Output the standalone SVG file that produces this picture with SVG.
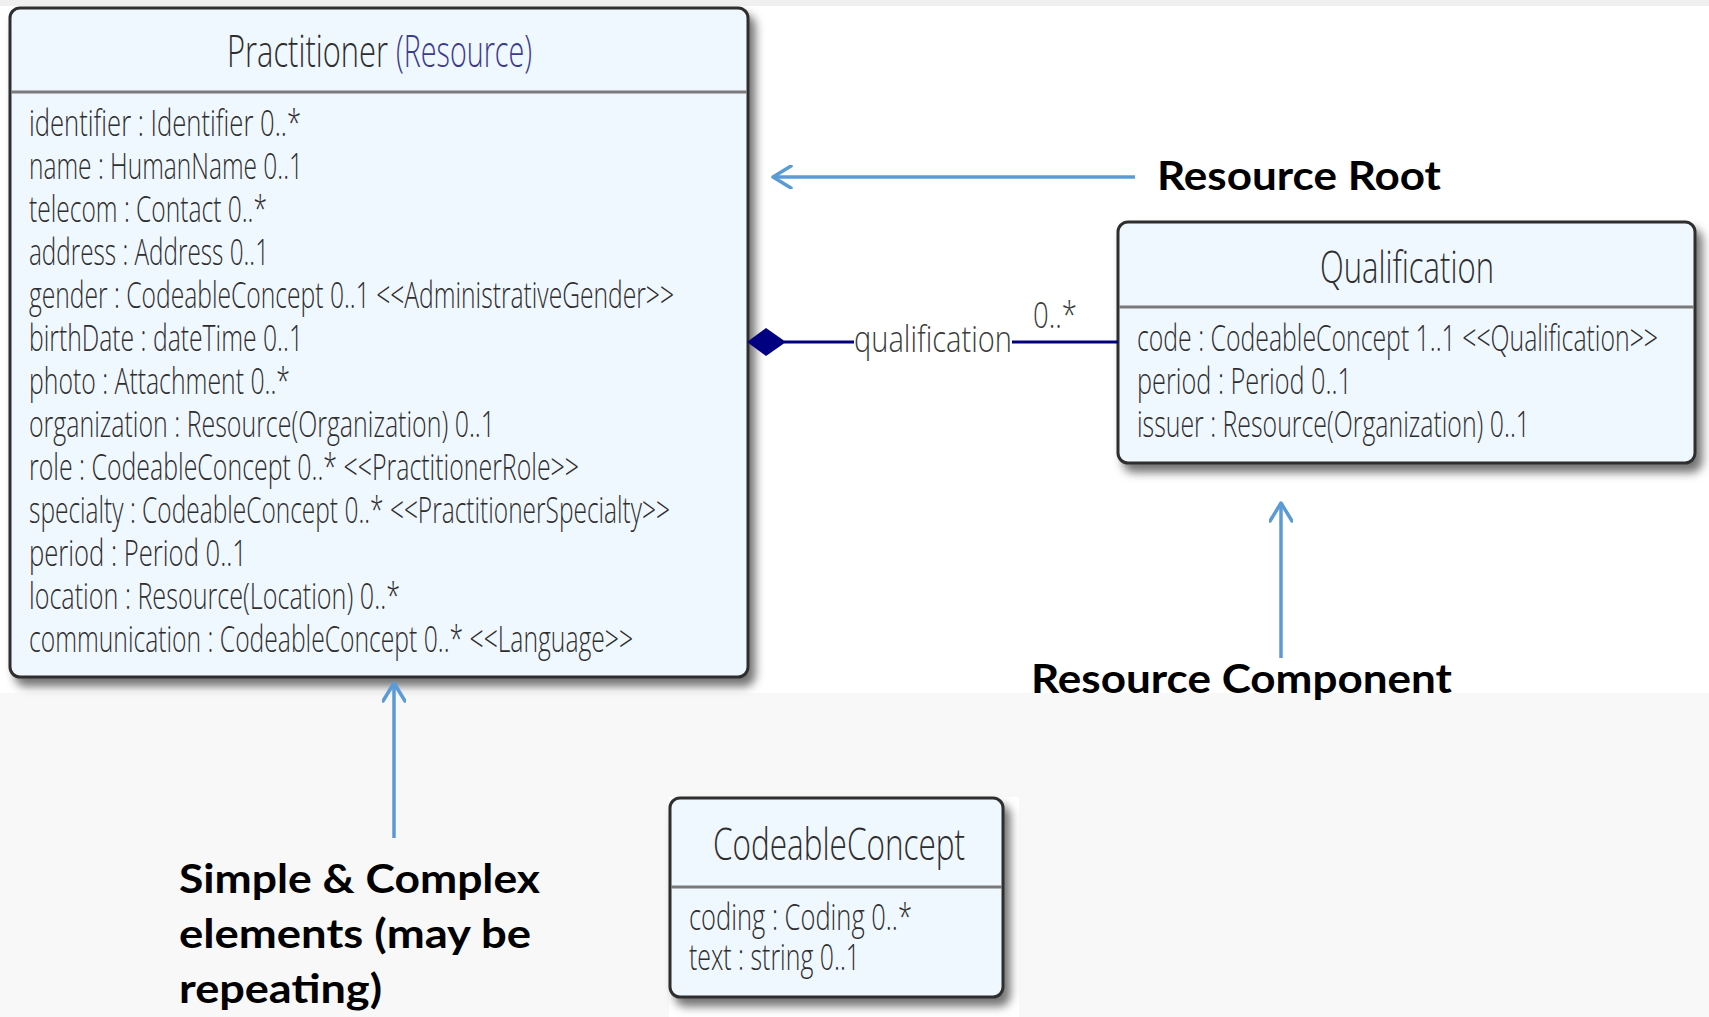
<svg xmlns="http://www.w3.org/2000/svg" width="1709" height="1017" viewBox="0 0 1709 1017">
  <style>
    .box { fill: #eff7ff; stroke: #2f2f2f; stroke-width: 3; }
    .div { stroke: #7a7a7a; stroke-width: 3; }
    .title { font-family: "Open Sans", "Noto Sans", sans-serif; font-weight: 300; font-size: 44px; fill: #2e2e2e; }
    .kind { fill: #3b3b8c; }
    .attr { font-family: "Open Sans", "Noto Sans", sans-serif; font-weight: 300; font-size: 36px; fill: #2e2e2e; }
    .lbl { font-family: "Open Sans", "Noto Sans", sans-serif; font-weight: 300; font-size: 36px; fill: #3a3a3a; }
    .note { font-family: Lato, "Open Sans", sans-serif; font-weight: 700; font-size: 40px; fill: #000000; }
    .assoc { stroke: #000080; stroke-width: 3; fill: none; }
    .callout { stroke: #5b9bd5; stroke-width: 3.5; fill: none; }
  </style>
  <defs>
    <filter id="shadow" x="-5%" y="-5%" width="115%" height="115%">
      <feDropShadow dx="6" dy="8" stdDeviation="5" flood-color="#000000" flood-opacity="0.55"/>
    </filter>
    <marker id="chevron" viewBox="0 0 24 24" refX="22" refY="12" markerWidth="24" markerHeight="24" markerUnits="userSpaceOnUse" orient="auto">
      <path d="M4,1 L22,12 L4,23" fill="none" stroke="#5b9bd5" stroke-width="3.5" stroke-linecap="round" stroke-linejoin="round"/>
    </marker>
  </defs>

  <!-- page background -->
  <rect x="0" y="0" width="1709" height="1017" fill="#ffffff"/>
  <rect x="0" y="0" width="1709" height="6" fill="#f0f0f0"/>
  <rect x="0" y="693" width="1709" height="324" fill="#f8f8f8"/>
  <rect x="669" y="797" width="350" height="220" fill="#ffffff"/>

  <!-- Practitioner class -->
  <g id="practitioner">
    <rect class="box" x="10" y="8" width="738" height="669" rx="10" filter="url(#shadow)"/>
    <line class="div" x1="11" y1="92" x2="747" y2="92"/>
    <text class="title" x="227" y="67" textLength="161" lengthAdjust="spacingAndGlyphs">Practitioner</text>
    <text class="title kind" x="396" y="67" textLength="136" lengthAdjust="spacingAndGlyphs">(Resource)</text>
    <text class="attr" x="29" y="136" textLength="272" lengthAdjust="spacingAndGlyphs">identifier : Identifier 0..*</text>
    <text class="attr" x="29" y="179" textLength="274" lengthAdjust="spacingAndGlyphs">name : HumanName 0..1</text>
    <text class="attr" x="29" y="222" textLength="238" lengthAdjust="spacingAndGlyphs">telecom : Contact 0..*</text>
    <text class="attr" x="29" y="265" textLength="240" lengthAdjust="spacingAndGlyphs">address : Address 0..1</text>
    <text class="attr" x="29" y="308" textLength="645" lengthAdjust="spacingAndGlyphs">gender : CodeableConcept 0..1 &lt;&lt;AdministrativeGender&gt;&gt;</text>
    <text class="attr" x="29" y="351" textLength="274" lengthAdjust="spacingAndGlyphs">birthDate : dateTime 0..1</text>
    <text class="attr" x="29" y="394" textLength="261" lengthAdjust="spacingAndGlyphs">photo : Attachment 0..*</text>
    <text class="attr" x="29" y="437" textLength="466" lengthAdjust="spacingAndGlyphs">organization : Resource(Organization) 0..1</text>
    <text class="attr" x="29" y="480" textLength="550" lengthAdjust="spacingAndGlyphs">role : CodeableConcept 0..* &lt;&lt;PractitionerRole&gt;&gt;</text>
    <text class="attr" x="29" y="523" textLength="641" lengthAdjust="spacingAndGlyphs">specialty : CodeableConcept 0..* &lt;&lt;PractitionerSpecialty&gt;&gt;</text>
    <text class="attr" x="29" y="566" textLength="218" lengthAdjust="spacingAndGlyphs">period : Period 0..1</text>
    <text class="attr" x="29" y="609" textLength="371" lengthAdjust="spacingAndGlyphs">location : Resource(Location) 0..*</text>
    <text class="attr" x="29" y="652" textLength="604" lengthAdjust="spacingAndGlyphs">communication : CodeableConcept 0..* &lt;&lt;Language&gt;&gt;</text>
  </g>

  <!-- Qualification class -->
  <g id="qualification">
    <rect class="box" x="1118" y="222" width="577" height="241" rx="10" filter="url(#shadow)"/>
    <line class="div" x1="1119" y1="307" x2="1694" y2="307"/>
    <text class="title" x="1320" y="283" textLength="174" lengthAdjust="spacingAndGlyphs">Qualification</text>
    <text class="attr" x="1137" y="351" textLength="521" lengthAdjust="spacingAndGlyphs">code : CodeableConcept 1..1 &lt;&lt;Qualification&gt;&gt;</text>
    <text class="attr" x="1137" y="394" textLength="215" lengthAdjust="spacingAndGlyphs">period : Period 0..1</text>
    <text class="attr" x="1137" y="437" textLength="393" lengthAdjust="spacingAndGlyphs">issuer : Resource(Organization) 0..1</text>
  </g>

  <!-- CodeableConcept class -->
  <g id="codeableconcept">
    <rect class="box" x="670" y="798" width="333" height="199" rx="10" filter="url(#shadow)"/>
    <line class="div" x1="671" y1="887" x2="1002" y2="887"/>
    <text class="title" x="713" y="860" textLength="252" lengthAdjust="spacingAndGlyphs">CodeableConcept</text>
    <text class="attr" x="689" y="930" textLength="223" lengthAdjust="spacingAndGlyphs">coding : Coding 0..*</text>
    <text class="attr" x="689" y="970" textLength="171" lengthAdjust="spacingAndGlyphs">text : string 0..1</text>
  </g>

  <!-- Callout labels -->
  <g id="note-root">
    <text class="note" x="1157" y="190" textLength="284" lengthAdjust="spacingAndGlyphs">Resource Root</text>
  </g>
  <g id="note-component">
    <text class="note" x="1031" y="693" textLength="421" lengthAdjust="spacingAndGlyphs">Resource Component</text>
  </g>
  <g id="note-elements">
    <text class="note" x="179" y="893" textLength="361" lengthAdjust="spacingAndGlyphs">Simple &amp; Complex</text>
    <text class="note" x="179" y="948" textLength="352" lengthAdjust="spacingAndGlyphs">elements (may be</text>
    <text class="note" x="179" y="1003" textLength="203" lengthAdjust="spacingAndGlyphs">repeating)</text>
  </g>

  <!-- Connectors -->
  <g id="connectors">
    <!-- composition: Practitioner ◆— qualification 0..* — Qualification -->
    <polygon points="747,342 766,328 786,342 766,356" fill="#000080"/>
    <line class="assoc" x1="784" y1="342" x2="854" y2="342"/>
    <line class="assoc" x1="1012" y1="342" x2="1118" y2="342"/>
    <text class="lbl" x="854" y="352" textLength="158" lengthAdjust="spacingAndGlyphs">qualification</text>
    <text class="lbl" x="1033" y="328" textLength="44" lengthAdjust="spacingAndGlyphs">0..*</text>

    <!-- callout arrows -->
    <line class="callout" x1="1135" y1="177" x2="773" y2="177" marker-end="url(#chevron)"/>
    <line class="callout" x1="1281" y1="658" x2="1281" y2="503" marker-end="url(#chevron)"/>
    <line class="callout" x1="394" y1="838" x2="394" y2="683" marker-end="url(#chevron)"/>
  </g>
</svg>
